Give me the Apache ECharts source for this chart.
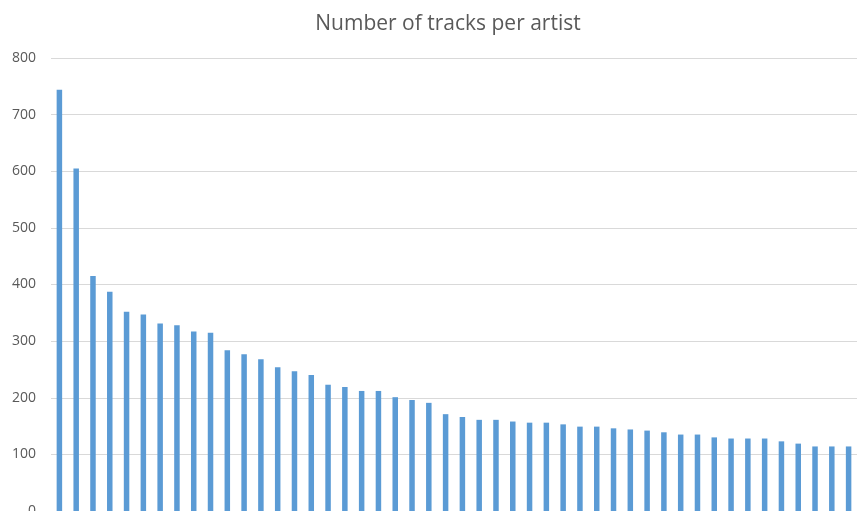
<!DOCTYPE html>
<html>
<head>
<meta charset="utf-8">
<script src="https://cdn.jsdelivr.net/npm/echarts@6/dist/echarts.min.js"></script>
<style>html,body{margin:0;padding:0;background:#fff}#c{width:858px;height:511px}</style>
</head>
<body>
<div id="c"></div>
<script>
const categories = Array.from({length: 48}, (_, i) => 'Artist ' + (i + 1));
const tracks = [744, 605, 415, 387, 352, 347, 331, 328, 317, 315,
  284, 277, 268, 254, 247, 240, 223, 219, 212, 212,
  201, 196, 191, 171, 166, 161, 161, 158, 156, 156,
  153, 149, 149, 146, 144, 142, 139, 135, 135, 130,
  128, 128, 128, 123, 119, 114, 114, 114];
const yTicks = [0, 100, 200, 300, 400, 500, 600, 700, 800];
const titleText = 'Number of tracks per artist';

const chart = echarts.init(document.getElementById('c'));
chart.setOption({
  animation: false,
  title: {
    text: titleText,
    left: 443, top: 9, textAlign: 'center',
    textStyle: {fontFamily: 'Open Sans', fontSize: 21, fontWeight: 'normal', color: '#595959'}
  },
  grid: {left: 51, right: 1, top: 58, bottom: 0, containLabel: false, outerBoundsMode: 'none'},
  xAxis: {
    type: 'category', data: categories,
    axisLine: {show: false}, axisTick: {show: false}, axisLabel: {show: false}
  },
  yAxis: {
    type: 'value', min: yTicks[0], max: yTicks[yTicks.length - 1], interval: 100,
    axisLine: {show: false}, axisTick: {show: false},
    axisLabel: {margin: 15, fontFamily: 'Open Sans', fontSize: 14, color: '#595959'},
    splitLine: {lineStyle: {color: '#d9d9d9', width: 1}}
  },
  series: [{
    type: 'bar', data: tracks, barWidth: 5.5,
    itemStyle: {color: '#5b9bd5'}
  }]
});
</script>
</body>
</html>
